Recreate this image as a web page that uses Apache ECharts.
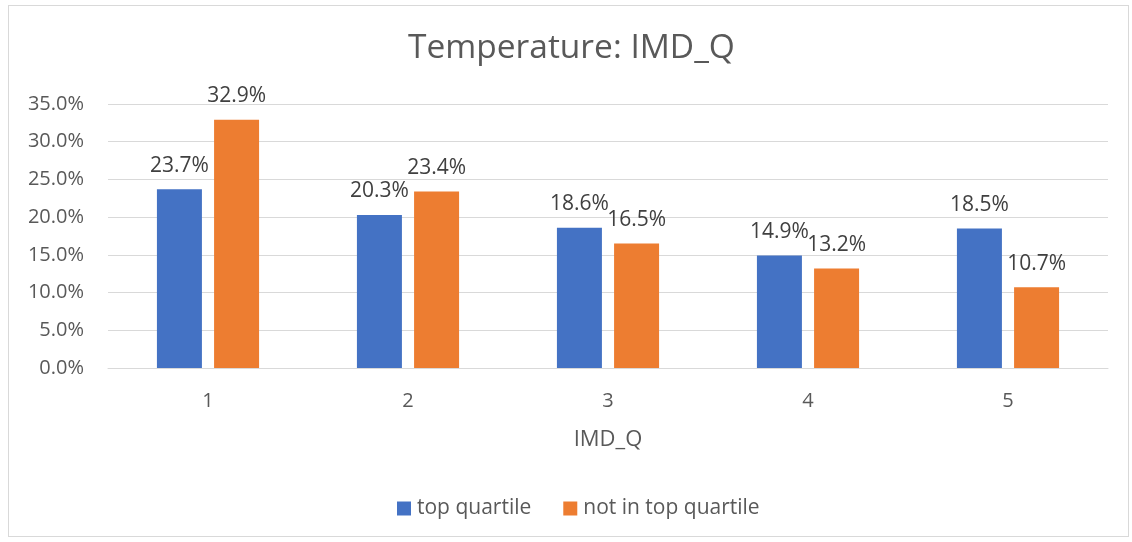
<!DOCTYPE html>
<html>
<head>
<meta charset="utf-8">
<script src="https://cdn.jsdelivr.net/npm/echarts@6/dist/echarts.min.js"></script>
<style>
  html, body { margin: 0; padding: 0; background: #fff; }
  #frame { position: absolute; left: 8px; top: 5px; width: 1121px; height: 532px; border: 1px solid #d9d9d9; box-sizing: border-box; }
  #chart { position: absolute; left: 0; top: 0; width: 1132px; height: 542px; }
</style>
</head>
<body>
<div id="frame"></div>
<div id="chart"></div>
<script>
// IMD quintile categories and share of each group (percent)
const categories = ['1', '2', '3', '4', '5'];
const topQuartile = [23.7, 20.3, 18.6, 14.9, 18.5];
const notTopQuartile = [32.9, 23.4, 16.5, 13.2, 10.7];
const yTicks = { min: 0, max: 35, interval: 5 };

const FONT = '"Open Sans", sans-serif';
const chart = echarts.init(document.getElementById('chart'));

const labelStyle = {
  show: true,
  position: 'top',
  distance: 13,
  color: '#404040',
  fontSize: 21,
  fontFamily: FONT,
  formatter: p => p.value.toFixed(1) + '%'
};

chart.setOption({
  animation: false,
  title: {
    text: 'Temperature: IMD_Q',
    left: 403,
    top: 26,
    textStyle: { color: '#595959', fontSize: 33.5, fontWeight: 'normal', fontFamily: FONT }
  },
  legend: {
    bottom: 18,
    left: 392,
    itemWidth: 14,
    itemHeight: 14,
    itemGap: 32,
    icon: 'rect',
    textStyle: { color: '#595959', fontSize: 21, fontFamily: FONT, padding: [0, 0, 0, 1] },
    data: ['top quartile', 'not in top quartile']
  },
  grid: { left: 108, right: 24, top: 104, bottom: 174 },
  xAxis: {
    type: 'category',
    data: categories,
    name: 'IMD_Q',
    nameLocation: 'middle',
    nameGap: 61,
    nameTextStyle: { color: '#595959', fontSize: 22, fontFamily: FONT },
    axisLine: { lineStyle: { color: '#d9d9d9', width: 1 } },
    axisTick: { show: false },
    axisLabel: { color: '#595959', fontSize: 20, fontFamily: FONT, margin: 23 }
  },
  yAxis: {
    type: 'value',
    min: yTicks.min,
    max: yTicks.max,
    interval: yTicks.interval,
    axisLine: { show: false },
    axisTick: { show: false },
    splitLine: { lineStyle: { color: '#d9d9d9', width: 1 } },
    axisLabel: {
      color: '#595959', fontSize: 20, fontFamily: FONT, margin: 24,
      formatter: v => v.toFixed(1) + '%'
    }
  },
  series: [
    {
      name: 'top quartile',
      type: 'bar',
      data: topQuartile,
      barWidth: 45,
      barGap: '27%',
      itemStyle: { color: '#4472C4' },
      label: labelStyle
    },
    {
      name: 'not in top quartile',
      type: 'bar',
      data: notTopQuartile,
      barWidth: 45,
      itemStyle: { color: '#ED7D31' },
      label: labelStyle
    }
  ]
});
</script>
</body>
</html>
